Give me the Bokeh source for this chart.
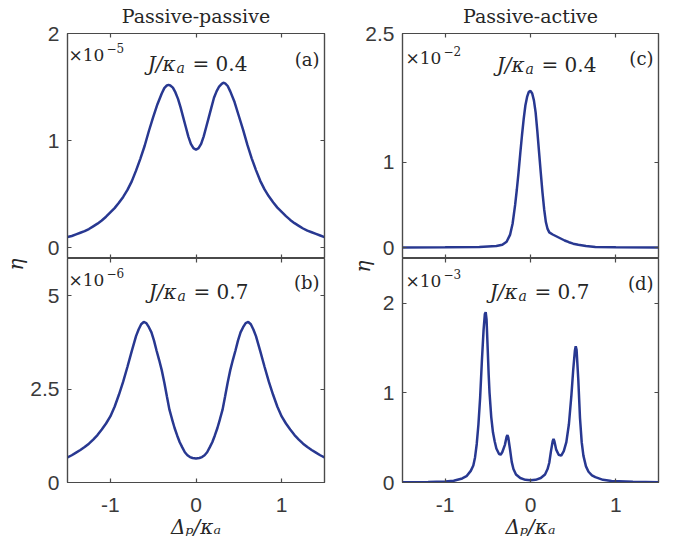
from bokeh.plotting import figure
from bokeh.layouts import gridplot
from bokeh.models import (Range1d, FixedTicker, LinearAxis, Label, Title,
                          CustomJSTickFormatter)
from bokeh.embed import file_html
from bokeh.resources import INLINE

# ---------------- data ----------------
x_ticks = [-1, 0, 1]

# (a) passive-passive, J/kappa_a = 0.4, eta in units of 1e-5
x_a = [-1.5, -1.45, -1.4, -1.35, -1.3, -1.25, -1.2, -1.15, -1.1, -1.05, -1.0, -0.95, -0.9,
       -0.85, -0.8, -0.75, -0.7, -0.65, -0.6, -0.55, -0.5, -0.45, -0.4, -0.37, -0.34, -0.32,
       -0.3, -0.27, -0.24, -0.21, -0.18, -0.15, -0.12, -0.09, -0.06, -0.03, 0.0,
       0.03, 0.06, 0.09, 0.12, 0.15, 0.18, 0.21, 0.24, 0.27, 0.3, 0.32, 0.34, 0.37, 0.4,
       0.45, 0.5, 0.55, 0.6, 0.65, 0.7, 0.75, 0.8, 0.85, 0.9, 0.95, 1.0, 1.05, 1.1, 1.15,
       1.2, 1.25, 1.3, 1.35, 1.4, 1.45, 1.5]
eta_a = [0.10, 0.11, 0.125, 0.14, 0.155, 0.175, 0.20, 0.225, 0.255, 0.29, 0.33, 0.37, 0.42,
         0.475, 0.54, 0.62, 0.72, 0.83, 0.95, 1.09, 1.22, 1.34, 1.44, 1.49, 1.515, 1.52,
         1.515, 1.495, 1.45, 1.39, 1.31, 1.22, 1.13, 1.04, 0.97, 0.93, 0.915,
         0.93, 0.97, 1.04, 1.13, 1.22, 1.31, 1.40, 1.46, 1.505, 1.53, 1.54, 1.535, 1.51, 1.46,
         1.36, 1.23, 1.10, 0.96, 0.835, 0.725, 0.625, 0.545, 0.48, 0.425, 0.375, 0.335, 0.295,
         0.26, 0.23, 0.205, 0.18, 0.16, 0.145, 0.13, 0.115, 0.10]
yticks_a = [0, 1, 2]

# (b) passive-passive, J/kappa_a = 0.7, eta in units of 1e-6
x_b = [-1.5, -1.45, -1.4, -1.35, -1.3, -1.25, -1.2, -1.15, -1.1, -1.05, -1.0, -0.95, -0.9,
       -0.85, -0.8, -0.75, -0.7, -0.67, -0.64, -0.61, -0.58, -0.55, -0.52, -0.49, -0.46,
       -0.43, -0.4, -0.37, -0.34, -0.31, -0.28, -0.25, -0.22, -0.19, -0.16, -0.13, -0.1,
       -0.07, -0.04, 0.0, 0.04, 0.07, 0.1, 0.13, 0.16, 0.19, 0.22, 0.25, 0.28, 0.31, 0.34,
       0.37, 0.4, 0.43, 0.46, 0.49, 0.52, 0.55, 0.58, 0.61, 0.64, 0.67, 0.7, 0.75, 0.8,
       0.85, 0.9, 0.95, 1.0, 1.05, 1.1, 1.15, 1.2, 1.25, 1.3, 1.35, 1.4, 1.45, 1.5]
eta_b = [0.67, 0.73, 0.80, 0.87, 0.95, 1.04, 1.15, 1.27, 1.42, 1.58, 1.77, 2.03, 2.35,
         2.70, 3.10, 3.52, 3.92, 4.10, 4.24, 4.30, 4.27, 4.16, 4.02, 3.80, 3.53,
         3.28, 3.01, 2.68, 2.31, 1.95, 1.70, 1.46, 1.26, 1.08, 0.94, 0.81, 0.73,
         0.68, 0.655, 0.645, 0.655, 0.68, 0.73, 0.81, 0.94, 1.08, 1.26, 1.46, 1.70, 1.95, 2.31,
         2.68, 3.01, 3.28, 3.53, 3.80, 4.02, 4.16, 4.27, 4.30, 4.24, 4.10, 3.92, 3.52, 3.10,
         2.70, 2.35, 2.03, 1.77, 1.58, 1.42, 1.27, 1.15, 1.04, 0.95, 0.87, 0.80, 0.73, 0.67]
yticks_b = [0, 2.5, 5]

# (c) passive-active, J/kappa_a = 0.4, eta in units of 1e-2
x_c = [-1.5, -1.0, -0.6, -0.4, -0.33, -0.28, -0.24, -0.21, -0.18, -0.16, -0.14, -0.12,
       -0.10, -0.08, -0.06, -0.04, -0.02, 0.0, 0.02, 0.04, 0.06, 0.08, 0.10, 0.12, 0.14,
       0.16, 0.18, 0.20, 0.22, 0.26, 0.33, 0.40, 0.45, 0.5, 0.56, 0.65, 0.76, 1.0, 1.5]
eta_c = [0.003, 0.005, 0.01, 0.02, 0.035, 0.07, 0.15, 0.28, 0.50, 0.68, 0.88, 1.10,
         1.31, 1.50, 1.66, 1.76, 1.82, 1.83, 1.80, 1.72, 1.58, 1.36, 1.12, 0.88, 0.65,
         0.45, 0.30, 0.22, 0.18, 0.155, 0.12, 0.085, 0.065, 0.048, 0.035, 0.02, 0.01, 0.005, 0.003]
yticks_c = [0, 1, 2.5]

# (d) passive-active, J/kappa_a = 0.7, eta in units of 1e-3
x_d = [-1.5, -1.2, -1.0, -0.9, -0.8, -0.75, -0.7, -0.67, -0.65, -0.63, -0.61, -0.59,
       -0.57, -0.55, -0.535, -0.525, -0.515, -0.50, -0.49, -0.48, -0.46, -0.44, -0.42,
       -0.40, -0.37, -0.35, -0.33, -0.30, -0.28, -0.27, -0.26, -0.24, -0.22, -0.20,
       -0.17, -0.12, -0.06, 0.0, 0.06, 0.12, 0.17, 0.20, 0.22, 0.24, 0.26, 0.27, 0.28,
       0.30, 0.33, 0.36, 0.39, 0.42, 0.45, 0.48, 0.50, 0.52, 0.53, 0.54, 0.56, 0.58,
       0.60, 0.62, 0.65, 0.68, 0.72, 0.76, 0.85, 0.95, 1.2, 1.5]
eta_d = [0.003, 0.006, 0.012, 0.02, 0.045, 0.07, 0.13, 0.19, 0.28, 0.43, 0.65, 0.95,
         1.35, 1.70, 1.88, 1.90, 1.82, 1.45, 1.20, 1.00, 0.73, 0.56, 0.46,
         0.38, 0.32, 0.31, 0.34, 0.42, 0.51, 0.53, 0.50, 0.37, 0.23, 0.15,
         0.09, 0.05, 0.03, 0.025, 0.03, 0.05, 0.09, 0.15, 0.22, 0.35, 0.46, 0.485, 0.46,
         0.37, 0.31, 0.30, 0.35, 0.45, 0.65, 0.98, 1.25, 1.47, 1.52, 1.48, 1.15, 0.72,
         0.45, 0.30, 0.18, 0.12, 0.08, 0.06, 0.03, 0.018, 0.007, 0.003]
yticks_d = [0, 1, 2]

titles = ["Passive-passive", "Passive-active"]
multipliers = ["×10", "×10", "×10", "×10"]
exponents = ["−5", "−6", "−2", "−3"]
tags = ["(a)", "(b)", "(c)", "(d)"]
j_values = ["0.4", "0.7", "0.4", "0.7"]

# ---------------- styling ----------------
LINE = "#283891"
AXC = "#4a4a4a"
TXT = "#262626"
TICKFONT = "Liberation Sans"
SERIF = "DejaVu Serif"

fmt_code = "return tick.toString();"


def style_axis(ax, ticks, labels, standoff=8):
    ax.ticker = FixedTicker(ticks=ticks)
    ax.formatter = CustomJSTickFormatter(code=fmt_code)
    ax.major_tick_in = 4
    ax.major_tick_out = 0
    ax.minor_tick_line_color = None
    ax.axis_line_color = AXC
    ax.axis_line_width = 1.2
    ax.major_tick_line_color = AXC
    ax.major_tick_line_width = 1.2
    if labels:
        ax.major_label_text_font = TICKFONT
        ax.major_label_text_font_size = "21px"
        ax.major_label_text_color = "#3a3a3a"
        ax.major_label_standoff = standoff
    else:
        ax.major_label_text_font_size = "1px"
        ax.major_label_text_color = None
        ax.major_label_standoff = 0


def panel(xs, ys, yr, yticks, frame_w, frame_h, bl, br, bt, bb, bottom_row, title=None):
    p = figure(frame_width=frame_w, frame_height=frame_h,
               x_range=Range1d(-1.5, 1.5), y_range=Range1d(*yr),
               x_axis_type=None, y_axis_type=None, title=None,
               min_border_left=bl, min_border_right=br,
               min_border_top=bt, min_border_bottom=bb,
               output_backend="svg", toolbar_location=None)
    p.outline_line_color = AXC
    p.outline_line_width = 1.2
    p.background_fill_color = "white"
    p.border_fill_color = "white"
    left = LinearAxis()
    style_axis(left, yticks, True, 8)
    p.add_layout(left, "left")
    right = LinearAxis()
    style_axis(right, yticks, False)
    p.add_layout(right, "right")
    below = LinearAxis()
    style_axis(below, x_ticks, bottom_row, 15)
    if bottom_row:
        below.axis_label = "Δₚ/κₐ"
        below.axis_label_text_font = SERIF
        below.axis_label_text_font_size = "20px"
        below.axis_label_text_font_style = "italic"
        below.axis_label_text_color = TXT
        below.axis_label_standoff = 0
    p.add_layout(below, "below")
    above = LinearAxis()
    style_axis(above, x_ticks, False)
    if title is not None:
        above.axis_label = title
        above.axis_label_text_font = SERIF
        above.axis_label_text_font_size = "19px"
        above.axis_label_text_font_style = "normal"
        above.axis_label_text_color = TXT
        above.axis_label_standoff = 7
    p.add_layout(above, "above")
    p.line(xs, ys, line_color=LINE, line_width=2.5)
    p._geom = (frame_w, frame_h, yr)
    return p


def add_text(p, fx, fy, text, size, style="normal", align="left"):
    """fx, fy: pixel offsets from the frame's top-left corner."""
    fw, fh, yr = p._geom
    x = -1.5 + 3.0 * fx / fw
    y = yr[1] - (yr[1] - yr[0]) * fy / fh
    p.add_layout(Label(x=x, y=y, text=text, text_font=SERIF, text_font_size=size,
                       text_font_style=style, text_color=TXT, text_align=align,
                       text_baseline="alphabetic"))


pa = panel(x_a, eta_a, (-0.1, 2.0), yticks_a, 257, 225, 67, 16, 33, 0, False, titles[0])
pb = panel(x_b, eta_b, (0.0, 6.0), yticks_b, 257, 224, 67, 16, 0, 67, True)
pc = panel(x_c, eta_c, (-0.125, 2.5), yticks_c, 256, 225, 62, 22, 33, 0, False, titles[1])
pd = panel(x_d, eta_d, (0.0, 2.5), yticks_d, 256, 224, 62, 22, 0, 67, True)

# per-panel text positions (pixels relative to frame top-left)
#            p,  mult(x, base), tag(right, base), J(start, base)
placements = [(pa, 1, 21, 252, 26, 71, 30),
              (pb, 1, 21, 252, 24, 72, 33),
              (pc, 3, 24, 251, 25, 85, 31),
              (pd, 3, 22, 251, 25, 78, 33)]

for i, (p, mx, mb, tx, tb, jx, jb) in enumerate(placements):
    add_text(p, mx, mb, multipliers[i], "17px")
    add_text(p, mx + 38, mb - 7, exponents[i], "12px")
    add_text(p, tx, tb, tags[i], "18px", align="right")
    add_text(p, jx + 37, jb, "J/κ", "20px", style="italic", align="right")
    add_text(p, jx + 38, jb + 4, "a", "14px", style="italic")
    add_text(p, jx + 54, jb, "= " + j_values[i], "20px")

# eta labels on the left, at the upper end of the lower panels
pb.add_layout(Title(text="η", align="right", text_font=SERIF, text_font_size="20px",
                    text_font_style="italic", text_color=TXT, standoff=0), "left")
pd.add_layout(Title(text="η", align="right", text_font=SERIF, text_font_size="20px",
                    text_font_style="italic", text_color=TXT, standoff=10, offset=2), "left")

grid = gridplot([[pa, pc], [pb, pd]], toolbar_location=None)

open("out.html", "w").write(file_html(grid, INLINE))
